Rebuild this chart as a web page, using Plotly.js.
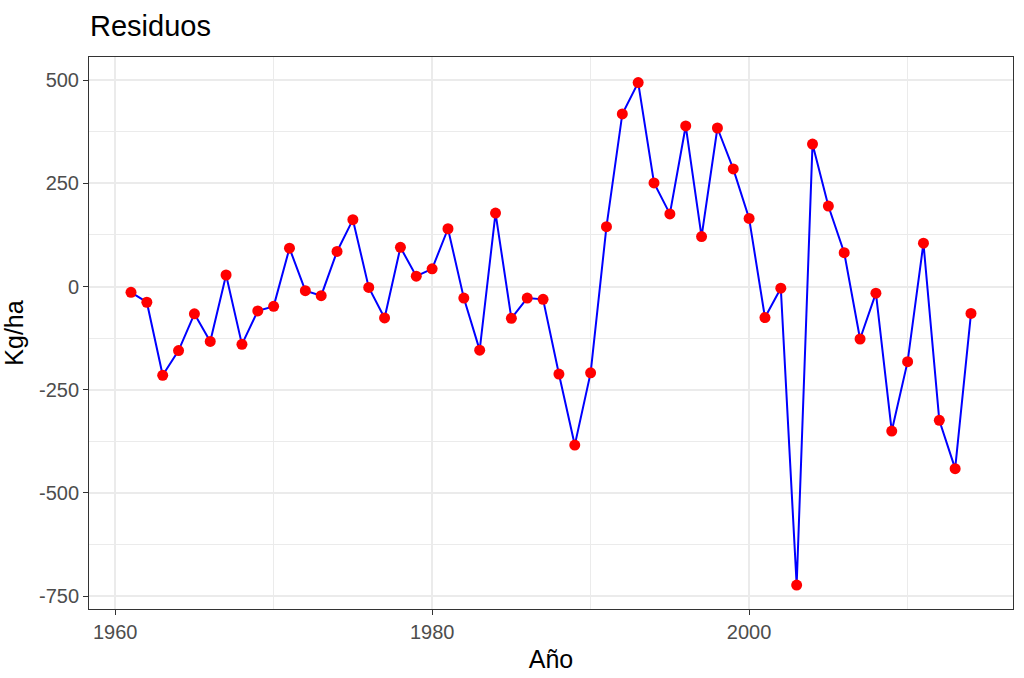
<!DOCTYPE html>
<html>
<head>
<meta charset="utf-8">
<script src="https://cdn.plot.ly/plotly-3.0.1.min.js"></script>
<style>html,body{margin:0;padding:0;background:#fff;}#chart{width:1024px;height:678px;}</style>
</head>
<body>
<div id="chart"></div>
<script>
const years = [1961,1962,1963,1964,1965,1966,1967,1968,1969,1970,
  1971,1972,1973,1974,1975,1976,1977,1978,1979,1980,
  1981,1982,1983,1984,1985,1986,1987,1988,1989,1990,
  1991,1992,1993,1994,1995,1996,1997,1998,1999,2000,
  2001,2002,2003,2004,2005,2006,2007,2008,2009,2010,
  2011,2012,2013,2014];
const residuals = [-14,-38,-215,-155,-66,-133,28,-140,-59,-48,
  93,-10,-22,85,162,-2,-76,95,25,43,
  140,-28,-154,178,-77,-28,-31,-212,-384,-209,
  145,418,494,251,176,389,121,384,285,165,
  -75,-4,-723,345,195,82,-127,-16,-350,-182,
  105,-324,-441,-65];
const xTicks = [1960,1980,2000];
const yTicks = [-750,-500,-250,0,250,500];

const trace = {
  x: years, y: residuals, type: 'scatter', mode: 'lines+markers',
  line: {color: '#0000ff', width: 2},
  marker: {color: '#ff0000', size: 11},
  hoverinfo: 'x+y'
};
const axisCommon = {
  showline: true, mirror: true, linecolor: '#333333', linewidth: 1,
  ticks: 'outside', ticklen: 5, tickcolor: '#333333', tickwidth: 1,
  showgrid: true, gridcolor: '#ebebeb', gridwidth: 2, zeroline: false,
  tickfont: {family: 'Liberation Sans, Arial, sans-serif', size: 20, color: '#4d4d4d'}
};
const layout = {
  width: 1024, height: 678,
  paper_bgcolor: '#ffffff', plot_bgcolor: '#ffffff',
  margin: {l: 89, r: 11, t: 57, b: 69},
  showlegend: false,
  title: {text: 'Residuos', xref: 'container', yref: 'container', x: 90/1024, xanchor: 'left',
    y: 1 - 26/678, yanchor: 'middle',
    font: {family: 'Liberation Sans, Arial, sans-serif', size: 29, color: '#000000'}},
  xaxis: Object.assign({}, axisCommon, {
    range: [1958.35, 2016.65], tickvals: xTicks, ticktext: xTicks.map(String),
    minor: {dtick: 10, tick0: 1960, showgrid: true, gridcolor: '#ebebeb', gridwidth: 1, ticks: ''},
    title: {text: 'Año', standoff: 8, font: {family: 'Liberation Sans, Arial, sans-serif', size: 25, color: '#000000'}}
  }),
  yaxis: Object.assign({}, axisCommon, {
    range: [-781, 556], tickvals: yTicks, ticktext: yTicks.map(String),
    minor: {dtick: 125, tick0: 0, showgrid: true, gridcolor: '#ebebeb', gridwidth: 1, ticks: ''},
    title: {text: 'Kg/ha', standoff: 8, font: {family: 'Liberation Sans, Arial, sans-serif', size: 25, color: '#000000'}}
  })
};
Plotly.newPlot('chart', [trace], layout, {displayModeBar: false, staticPlot: true});
</script>
</body>
</html>
